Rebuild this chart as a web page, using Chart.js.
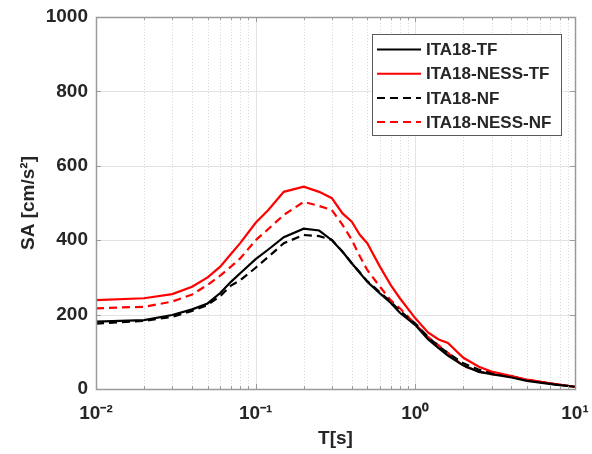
<!DOCTYPE html>
<html>
<head>
<meta charset="utf-8">
<script src="https://cdn.jsdelivr.net/npm/chart.js@4/dist/chart.umd.min.js"></script>
<style>
html,body{margin:0;padding:0;background:#fff;}
#wrap{width:592px;height:454px;position:relative;}
</style>
</head>
<body>
<div id="wrap"><canvas id="c" width="592" height="454"></canvas></div>
<script>
const periods = [0.01, 0.02, 0.03, 0.04, 0.05, 0.06, 0.07, 0.08, 0.1, 0.12, 0.15, 0.2, 0.25, 0.3, 0.35, 0.4, 0.45, 0.5, 0.6, 0.7, 0.8, 1.0, 1.2, 1.4, 1.6, 2.0, 2.5, 3.0, 4.0, 5.0, 7.5, 10];
const ita18TF     = [181, 185, 199, 214, 230, 258, 288, 311, 349, 375, 408, 431, 426, 400, 369, 338, 312, 288, 257, 232, 205, 172, 134, 110, 90, 63, 46, 40, 31, 22, 12, 6];
const ita18NessTF = [239, 244, 255, 275, 300, 329, 363, 392, 447, 481, 530, 544, 530, 513, 472, 450, 414, 392, 329, 280, 244, 190, 152, 133, 124, 84, 60, 47, 35, 25, 13, 6];
const ita18NF     = [176, 183, 194, 210, 226, 250, 278, 292, 326, 355, 392, 414, 411, 401, 369, 338, 313, 290, 260, 235, 210, 176, 140, 115, 97, 69, 52, 44, 34, 24, 13, 6];
const ita18NessNF = [217, 221, 235, 254, 280, 305, 329, 351, 400, 430, 468, 503, 492, 481, 441, 401, 356, 320, 275, 239, 217, 174, 140, 117, 97, 62, 47, 40, 33, 25, 13, 6];
const seriesLabels = ['ITA18-TF', 'ITA18-NESS-TF', 'ITA18-NF', 'ITA18-NESS-NF'];
const yTicks = [0, 200, 400, 600, 800, 1000];
const xDecadeLabels = {0.01: '10⁻²', 0.1: '10⁻¹', 1: '10⁰', 10: '10¹'};

const FONT = 'Liberation Sans, Arial, sans-serif';
const TXT = '#262626';
const AXIS = '#9a9a9a';

function isDecade(v) {
  const l = Math.log10(v);
  return Math.abs(l - Math.round(l)) < 1e-6;
}

const gridPlugin = {
  id: 'matlabGrid',
  beforeDatasetsDraw(chart) {
    const {ctx, chartArea: a, scales: {x, y}} = chart;
    ctx.save();
    ctx.lineWidth = 1;
    x.ticks.forEach(t => {
      const px = Math.round(x.getPixelForValue(t.value)) + 0.5;
      if (px <= a.left + 1 || px >= a.right - 1) return;
      ctx.beginPath();
      if (isDecade(t.value)) { ctx.setLineDash([]); ctx.strokeStyle = '#e3e3e3'; }
      else { ctx.setLineDash([1, 2]); ctx.strokeStyle = '#d8d8d8'; }
      ctx.moveTo(px, a.top); ctx.lineTo(px, a.bottom); ctx.stroke();
    });
    ctx.setLineDash([]);
    ctx.strokeStyle = '#e3e3e3';
    y.ticks.forEach(t => {
      const py = Math.round(y.getPixelForValue(t.value)) + 0.5;
      if (py <= a.top + 1 || py >= a.bottom - 1) return;
      ctx.beginPath(); ctx.moveTo(a.left, py); ctx.lineTo(a.right, py); ctx.stroke();
    });
    ctx.restore();
  },
  afterDatasetsDraw(chart) {
    const {ctx, chartArea: a, scales: {x, y}} = chart;
    ctx.save();
    ctx.strokeStyle = AXIS;
    ctx.lineWidth = 1;
    x.ticks.forEach(t => {
      const px = Math.round(x.getPixelForValue(t.value)) + 0.5;
      const len = isDecade(t.value) ? 5 : 3;
      ctx.beginPath();
      ctx.moveTo(px, a.bottom); ctx.lineTo(px, a.bottom - len);
      ctx.moveTo(px, a.top); ctx.lineTo(px, a.top + len);
      ctx.stroke();
    });
    y.ticks.forEach(t => {
      const py = Math.round(y.getPixelForValue(t.value)) + 0.5;
      ctx.beginPath();
      ctx.moveTo(a.left, py); ctx.lineTo(a.left + 5, py);
      ctx.moveTo(a.right, py); ctx.lineTo(a.right - 5, py);
      ctx.stroke();
    });
    ctx.lineWidth = 1.5;
    ctx.strokeRect(Math.round(a.left) + 0.5, Math.round(a.top) + 0.5, Math.round(a.right - a.left), Math.round(a.bottom - a.top));
    // legend
    const bx = 372, by = 34, bw = 189, bh = 101;
    ctx.fillStyle = '#fff';
    ctx.fillRect(bx, by, bw, bh);
    ctx.strokeStyle = '#5a5a5a';
    ctx.lineWidth = 1;
    ctx.strokeRect(bx + 0.5, by + 0.5, bw, bh);
    ctx.font = 'bold 17px ' + FONT;
    ctx.textBaseline = 'middle';
    ctx.textAlign = 'left';
    chart.data.datasets.forEach((ds, i) => {
      const yy = 49.5 + i * 24.2;
      ctx.beginPath();
      ctx.strokeStyle = ds.borderColor;
      ctx.lineWidth = 2;
      ctx.setLineDash(ds.borderDash || []);
      ctx.moveTo(377, yy); ctx.lineTo(421, yy);
      ctx.stroke();
      ctx.setLineDash([]);
      ctx.fillStyle = TXT;
      ctx.fillText(ds.label, 426, yy + 1);
    });
    ctx.restore();
  }
};

function pts(vals) { return periods.map((p, i) => ({x: p, y: vals[i]})); }

new Chart(document.getElementById('c'), {
  type: 'line',
  data: {
    datasets: [
      {label: seriesLabels[0], data: pts(ita18TF), borderColor: '#000000', borderWidth: 2.2, pointRadius: 0, tension: 0},
      {label: seriesLabels[1], data: pts(ita18NessTF), borderColor: '#ff0000', borderWidth: 2.2, pointRadius: 0, tension: 0},
      {label: seriesLabels[2], data: pts(ita18NF), borderColor: '#000000', borderWidth: 2.2, borderDash: [8, 5], pointRadius: 0, tension: 0},
      {label: seriesLabels[3], data: pts(ita18NessNF), borderColor: '#ff0000', borderWidth: 2.2, borderDash: [8, 5], pointRadius: 0, tension: 0}
    ]
  },
  options: {
    responsive: false,
    animation: false,
    layout: {padding: {top: 17, right: 17, left: 0, bottom: 0}},
    plugins: {legend: {display: false}, tooltip: {enabled: false}},
    scales: {
      x: {
        type: 'logarithmic',
        min: 0.01, max: 10,
        afterFit(s) { s.height = 65; s.paddingRight = 0; s.paddingLeft = 0; },
        afterBuildTicks(s) {
          const t = [];
          for (let e = -2; e <= 0; e++) for (let m = 1; m <= 9; m++) t.push({value: +(m * Math.pow(10, e)).toPrecision(3)});
          t.push({value: 10});
          s.ticks = t;
        },
        grid: {display: false, drawTicks: false},
        border: {display: false},
        ticks: {
          autoSkip: false, maxRotation: 0, padding: 13,
          color: TXT, font: {family: FONT, size: 19, weight: 'bold'},
          callback(v) { return xDecadeLabels[v] !== undefined ? xDecadeLabels[v] : ''; }
        },
        title: {display: true, text: 'T[s]', color: TXT, font: {family: FONT, size: 19, weight: 'bold'}, padding: {top: 0, bottom: 4}}
      },
      y: {
        min: 0, max: 1000,
        afterFit(s) { s.width = 96; s.paddingTop = 0; s.paddingBottom = 0; },
        afterBuildTicks(s) { s.ticks = yTicks.map(v => ({value: v})); },
        grid: {display: false, drawTicks: false},
        border: {display: false},
        ticks: {padding: 8, color: TXT, font: {family: FONT, size: 19, weight: 'bold'}, callback(v) { return String(v); }},
        title: {display: true, text: 'SA [cm/s²]', color: TXT, font: {family: FONT, size: 19, weight: 'bold'}, padding: {top: 17, bottom: 0}}
      }
    }
  },
  plugins: [gridPlugin]
});
</script>
</body>
</html>
